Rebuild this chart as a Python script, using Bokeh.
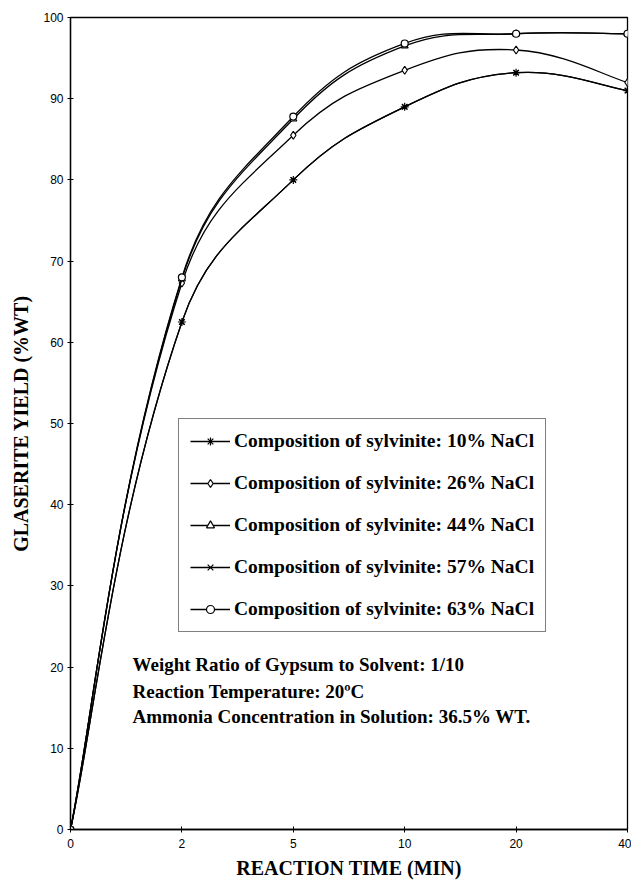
import numpy as np
from bokeh.plotting import figure
from bokeh.models import (FixedTicker, Range1d, Legend, LegendItem, Label, ColumnDataSource)
from bokeh.embed import file_html
from bokeh.resources import INLINE

# ---- data ----
time_labels = ["0", "2", "5", "10", "20", "40"]
time_index = [0, 1, 2, 3, 4, 5]
nacl_10 = [0, 62.5, 80.0, 89.0, 93.2, 91.0]
nacl_26 = [0, 67.3, 85.5, 93.5, 96.0, 92.0]
nacl_44 = [0, 67.8, 87.5, 96.5, 98.0, 98.0]
nacl_57 = [0, 62.5, 80.0, 89.0, 93.2, 91.0]
nacl_63 = [0, 68.0, 87.8, 96.8, 98.0, 98.0]
series_names = ["Composition of sylvinite: 10% NaCl",
                "Composition of sylvinite: 26% NaCl",
                "Composition of sylvinite: 44% NaCl",
                "Composition of sylvinite: 57% NaCl",
                "Composition of sylvinite: 63% NaCl"]
notes = ["Weight Ratio of Gypsum to Solvent: 1/10",
         "Reaction Temperature: 20\u00baC",
         "Ammonia Concentration in Solution: 36.5% WT."]

series = [nacl_10, nacl_26, nacl_44, nacl_57, nacl_63]
markers = ["asterisk", "diamond", "triangle", "x", "circle"]
msizes = [8, 8, 7, 7, 7]

SERIF = "Liberation Serif"
SANS = "Liberation Sans"

FRAME_W, FRAME_H = 557, 812
X_MAX, Y_MAX = 5, 100

p = figure(width=631, height=882, output_backend="svg", toolbar_location=None,
           x_range=Range1d(0, X_MAX), y_range=Range1d(0, Y_MAX),
           min_border_left=70, min_border_right=4, min_border_top=17, min_border_bottom=53)
p.background_fill_color = "white"
p.border_fill_color = "white"
p.outline_line_color = "black"
p.outline_line_width = 1.3
p.xgrid.visible = False
p.ygrid.visible = False

p.xaxis.ticker = FixedTicker(ticks=time_index)
p.xaxis.major_label_overrides = {i: s for i, s in zip(time_index, time_labels)}
p.yaxis.ticker = FixedTicker(ticks=list(range(0, 101, 10)))
p.xaxis.minor_tick_line_color = None
p.yaxis.minor_tick_line_color = None
for ax in (p.xaxis, p.yaxis):
    ax.axis_line_color = "black"
    ax.axis_line_width = 1.3
    ax.major_tick_line_color = "black"
    ax.major_tick_in = 3
    ax.major_tick_out = 3
    ax.major_label_text_font = SANS
    ax.major_label_text_font_size = "12px"
    ax.major_label_text_color = "black"
    ax.axis_label_text_font = SERIF
    ax.axis_label_text_font_style = "bold"
    ax.axis_label_text_font_size = "20px"
    ax.axis_label_text_color = "black"
p.xaxis.axis_label = "REACTION TIME (MIN)"
p.yaxis.axis_label = "GLASERITE YIELD (%WT)"
p.xaxis.major_label_standoff = 6
p.xaxis.axis_label_standoff = 6
p.yaxis.major_label_standoff = 4
p.yaxis.axis_label_standoff = 8

# pixel scale used only to shape the smoothing of the lines
SX = FRAME_W / X_MAX
SY = FRAME_H / Y_MAX


def smooth_segments(xs, ys, f=0.42):
    """Bezier control points for a smoothed line through the data points
    (Catmull-Rom style, control arms scaled by neighbouring segment lengths)."""
    x = np.asarray(xs, float)
    y = np.asarray(ys, float)
    n = len(x)
    xp = np.concatenate([[x[0]], x, [x[-1]]])
    yp = np.concatenate([[y[0]], y, [y[-1]]])
    d = np.hypot(np.diff(xp) * SX, np.diff(yp) * SY)
    cx0, cy0, cx1, cy1 = [], [], [], []
    for i in range(n - 1):
        k = i + 1
        dprev, dcur, dnext = d[k - 1], d[k], d[k + 1]
        s0 = 0.5 if dprev == 0 else dcur / (dprev + dcur)
        s1 = 0.5 if dnext == 0 else dcur / (dcur + dnext)
        cx0.append(xp[k] + (xp[k + 1] - xp[k - 1]) * s0 * f)
        cy0.append(yp[k] + (yp[k + 1] - yp[k - 1]) * s0 * f)
        cx1.append(xp[k + 1] - (xp[k + 2] - xp[k]) * s1 * f)
        cy1.append(yp[k + 1] - (yp[k + 2] - yp[k]) * s1 * f)
    return dict(x0=x[:-1], y0=y[:-1], x1=x[1:], y1=y[1:],
                cx0=cx0, cy0=cy0, cx1=cx1, cy1=cy1)


items = []
for name, ys, mk, ms in zip(series_names, series, markers, msizes):
    src = ColumnDataSource(smooth_segments(time_index, ys))
    ln = p.bezier(x0="x0", y0="y0", x1="x1", y1="y1", cx0="cx0", cy0="cy0",
                  cx1="cx1", cy1="cy1", source=src, line_color="black", line_width=1.3)
    sc = p.scatter(time_index, ys, marker=mk, size=ms, fill_color="white",
                   line_color="black", line_width=1.2)
    items.append(LegendItem(label=name, renderers=[ln, sc]))

legend = Legend(items=items, location=(108, 197), orientation="vertical",
                label_text_font=SERIF, label_text_font_style="bold",
                label_text_font_size="19.5px", label_text_color="black",
                glyph_width=40, glyph_height=20, label_height=20,
                spacing=20, padding=11, margin=0, label_standoff=4,
                border_line_color="black", border_line_width=1,
                background_fill_color="white", background_fill_alpha=1)
p.add_layout(legend, "center")

note_x = 0.557
note_y = [20.3, 17.0, 13.9]
for t, yv in zip(notes, note_y):
    p.add_layout(Label(x=note_x, y=yv, text=t, text_font=SERIF, text_font_style="bold",
                       text_font_size="19px", text_color="black", text_baseline="middle"))

open("out.html", "w").write(file_html(p, INLINE))
